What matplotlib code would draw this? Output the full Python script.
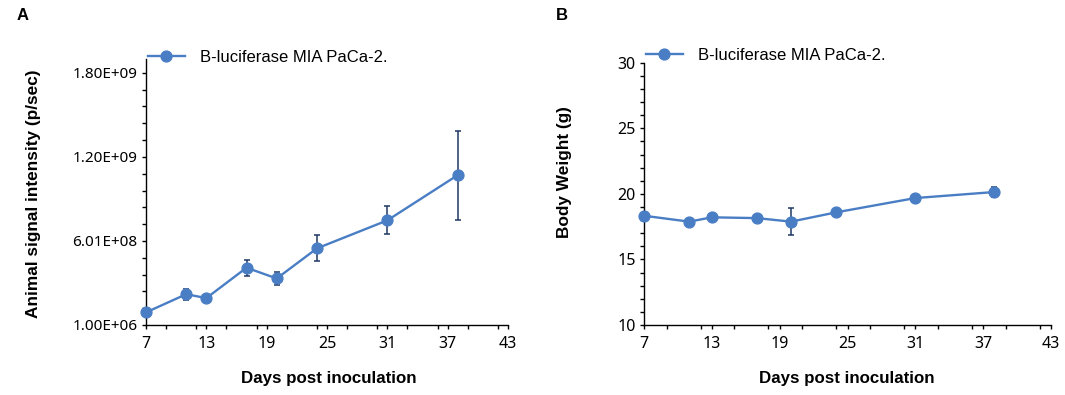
import numpy as np
import matplotlib
matplotlib.use("Agg")
import matplotlib.pyplot as plt
from matplotlib.ticker import MultipleLocator, FixedLocator

days = [7, 11, 13, 17, 20, 24, 31, 38]
signal = [9.1e7, 2.21e8, 1.93e8, 4.10e8, 3.33e8, 5.48e8, 7.48e8, 1.071e9]
signal_err = [0.0, 4.0e7, 0.0, 5.7e7, 4.5e7, 9.3e7, 1.0e8, 3.18e8]
weight = [18.33, 17.88, 18.21, 18.15, 17.88, 18.59, 19.68, 20.14]
weight_err = [0.1, 0.1, 0.1, 0.1, 1.02, 0.1, 0.25, 0.41]
series_name = "B-luciferase MIA PaCa-2."
xticks = [7, 13, 19, 25, 31, 37, 43]
a_yticks = [1.0e6, 6.01e8, 1.201e9, 1.801e9]
a_ylabels = ["1.00E+06", "6.01E+08", "1.20E+09", "1.80E+09"]
b_yticks = [10, 15, 20, 25, 30]

LINE = "#4A7EC4"
ERR = "#1F3864"
TICKFONT = "Noto Sans"
LABFONT = "Liberation Sans"

fig = plt.figure(figsize=(10.65, 3.95), dpi=100)
W, H = 1065, 395

def ax_rect(l, r, t, b):
    return [l / W, 1 - b / H, (r - l) / W, (b - t) / H]

axA = fig.add_axes(ax_rect(146, 508, 59, 325))
axB = fig.add_axes(ax_rect(644, 1051, 62.7, 325))

def style(ax):
    for s in ["top", "right"]:
        ax.spines[s].set_visible(False)
    for s in ["left", "bottom"]:
        ax.spines[s].set_linewidth(1.0)
        ax.spines[s].set_color("black")
    ax.set_xlim(7, 43)
    ax.xaxis.set_major_locator(FixedLocator(xticks))
    ax.xaxis.set_minor_locator(MultipleLocator(3))
    ax.tick_params(which="both", direction="out", length=3, width=1, color="black")
    ax.tick_params(axis="x", which="major", pad=5)
    ax.tick_params(axis="y", which="major", pad=3)
    ax.set_xticklabels([str(t) for t in xticks], fontsize=11.5, family=TICKFONT)

# Panel A
style(axA)
axA.set_ylim(1.0e6, 1.9e9)
axA.yaxis.set_major_locator(FixedLocator(a_yticks))
axA.yaxis.set_minor_locator(FixedLocator(list(np.arange(1.0e6, 1.9e9, 1.2e8))))
axA.set_yticklabels(a_ylabels, fontsize=11, family=TICKFONT)
axA.errorbar(days, signal, yerr=signal_err, fmt="none", ecolor=ERR, elinewidth=1.1,
             capsize=2.5, capthick=1.1, zorder=2, clip_on=False)
axA.plot(days, signal, color=LINE, lw=1.7, marker="o", ms=7.8, mfc=LINE, mec=LINE,
         zorder=3, clip_on=False, label=series_name)

# Panel B
style(axB)
axB.set_ylim(10, 30)
axB.yaxis.set_major_locator(FixedLocator(b_yticks))
axB.yaxis.set_minor_locator(MultipleLocator(1))
axB.set_yticklabels([str(t) for t in b_yticks], fontsize=11.5, family=TICKFONT)
axB.errorbar(days, weight, yerr=weight_err, fmt="none", ecolor=ERR, elinewidth=1.1,
             capsize=2.5, capthick=1.1, zorder=2, clip_on=False)
axB.plot(days, weight, color=LINE, lw=1.7, marker="o", ms=7.8, mfc=LINE, mec=LINE,
         zorder=3, clip_on=False, label=series_name)

for ax, (lx, ly) in [(axA, (148, 50)), (axB, (646, 48))]:
    ax.legend(loc="upper left", bbox_to_anchor=(lx / W, 1 - ly / H),
              bbox_transform=fig.transFigure, frameon=False,
              prop={"family": LABFONT, "size": 12}, handlelength=2.2,
              handletextpad=0.9, borderpad=0, borderaxespad=0)

# axis labels
fig.text(329 / W, 1 - 378 / H, "Days post inoculation", ha="center", va="center",
         fontsize=12.2, fontweight="bold", family=LABFONT)
fig.text(847 / W, 1 - 378 / H, "Days post inoculation", ha="center", va="center",
         fontsize=12.2, fontweight="bold", family=LABFONT)
fig.text(34 / W, 1 - 194 / H, "Animal signal intensity (p/sec)", ha="center", va="center",
         rotation=90, fontsize=12.4, fontweight="bold", family=LABFONT)
fig.text(565 / W, 1 - 172 / H, "Body Weight (g)", ha="center", va="center",
         rotation=90, fontsize=12.4, fontweight="bold", family=LABFONT)

# panel letters
fig.text(23 / W, 1 - 16 / H, "A", ha="center", va="center", fontsize=12,
         fontweight="bold", family=LABFONT)
fig.text(562 / W, 1 - 16 / H, "B", ha="center", va="center", fontsize=12,
         fontweight="bold", family=LABFONT)

fig.savefig("out.png", dpi=100)
